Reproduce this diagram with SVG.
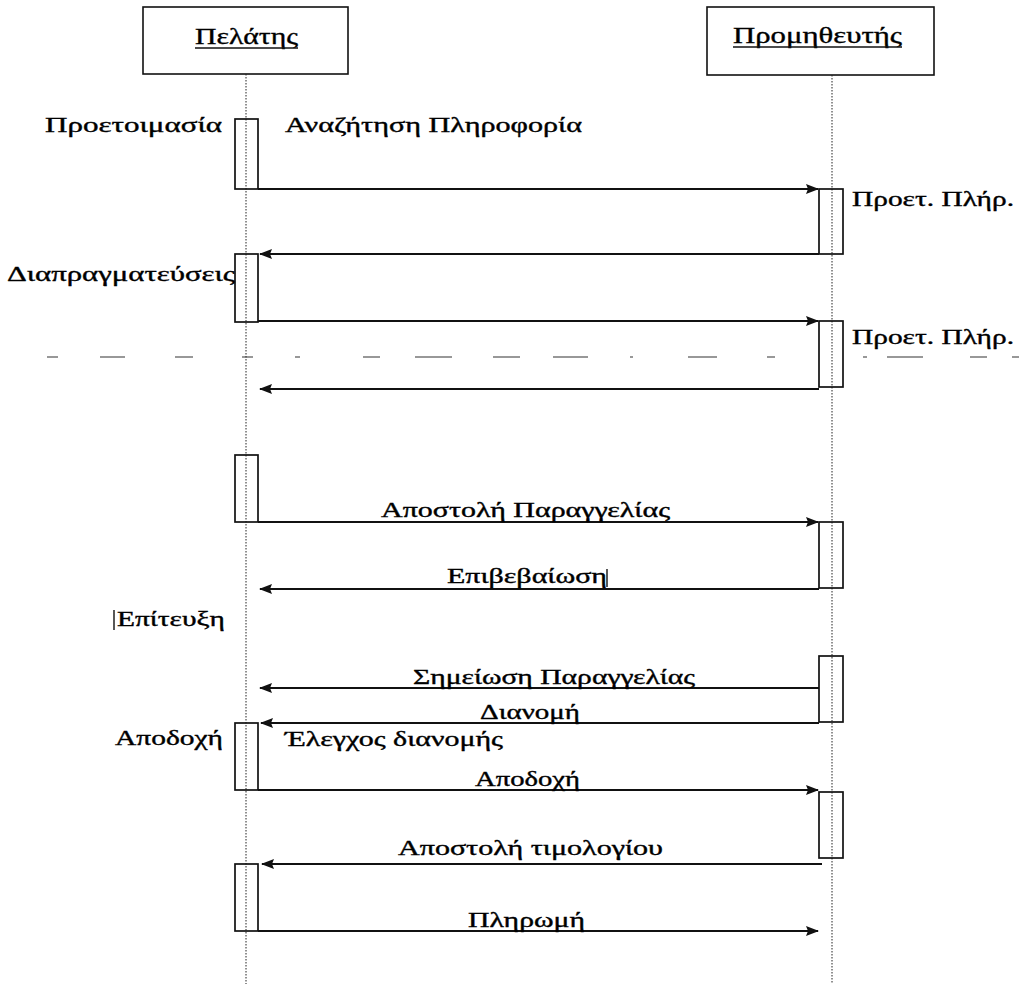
<svg xmlns="http://www.w3.org/2000/svg" width="1019" height="984" viewBox="0 0 1019 984">
  <style>
    .lbl { font-family: "Liberation Serif", "DejaVu Serif", serif; font-size: 20px; fill: #000; stroke: #000; stroke-width: 0.35; }
    .hdr { font-family: "Liberation Serif", "DejaVu Serif", serif; font-size: 23px; fill: #000; stroke: #000; stroke-width: 0.35; }
    .box { fill: #fff; stroke: #111; stroke-width: 1.6; }
    .act { fill: none; stroke: #111; stroke-width: 1.7; }
    .life { stroke: #222; stroke-width: 1; stroke-dasharray: 1.5 1.5; fill: none; }
    .msg { stroke: #111; stroke-width: 1.9; fill: none; }
    .fwd { marker-end: url(#head); }
    .ul { stroke: #111; stroke-width: 1.4; }
    .rule { stroke: #333; stroke-width: 1.2; fill: none; }
  </style>
  <defs>
    <marker id="head" markerUnits="userSpaceOnUse" markerWidth="13" markerHeight="10" refX="12" refY="5" orient="auto">
      <path d="M0,0 L13,5 L0,10 L2,5 z" fill="#111"/>
    </marker>
  </defs>

  <rect width="1019" height="984" fill="#fff"/>

  <!-- participants -->
  <g id="client">
    <rect class="box" x="143" y="7" width="205" height="67"/>
    <text class="hdr" x="195" y="44" textLength="103" lengthAdjust="spacingAndGlyphs">Πελάτης</text>
    <line class="ul" x1="195" y1="48" x2="298" y2="48"/>
  </g>
  <g id="supplier">
    <rect class="box" x="707" y="7" width="227" height="68"/>
    <text class="hdr" x="733" y="43" textLength="169" lengthAdjust="spacingAndGlyphs">Προμηθευτής</text>
    <line class="ul" x1="733" y1="47" x2="902" y2="47"/>
  </g>

  <!-- lifelines -->
  <g id="lifelines">
    <line class="life" x1="246" y1="74" x2="246" y2="984"/>
    <line class="life" x1="832" y1="75" x2="832" y2="984"/>
  </g>

  <!-- separator rule -->
  <g id="separator">
    <path class="rule" d="M47,357H58 M100,357H125 M175,357H193 M242,357H253 M295,357H300 M363,357H380 M415,357H452 M493,357H520 M553,357H588 M630,357H633 M688,357H717 M767,357H775 M863,357H867 M887,357H923 M970,357H987 M1012,357H1019"/>
  </g>

  <!-- activations: client -->
  <g id="client-activations">
    <rect class="act" x="235" y="119" width="23" height="70"/>
    <rect class="act" x="235" y="254" width="23" height="68"/>
    <rect class="act" x="235" y="455" width="23" height="67"/>
    <rect class="act" x="235" y="723" width="23" height="67"/>
    <rect class="act" x="235" y="864" width="23" height="67"/>
  </g>

  <!-- activations: supplier -->
  <g id="supplier-activations">
    <rect class="act" x="819" y="189" width="24" height="65"/>
    <rect class="act" x="819" y="321" width="24" height="66"/>
    <rect class="act" x="819" y="522" width="24" height="66"/>
    <rect class="act" x="819" y="656" width="24" height="66"/>
    <rect class="act" x="819" y="792" width="24" height="66"/>
  </g>

  <!-- messages -->
  <g id="connectors">
    <line class="msg fwd" x1="258" y1="189" x2="818" y2="189"/>
    <line class="msg fwd" x1="819" y1="254" x2="260" y2="254"/>
    <line class="msg fwd" x1="258" y1="321" x2="818" y2="321"/>
    <line class="msg fwd" x1="819" y1="389" x2="260" y2="389"/>
    <line class="msg fwd" x1="258" y1="522" x2="818" y2="522"/>
    <line class="msg fwd" x1="819" y1="589" x2="260" y2="589"/>
    <line class="msg fwd" x1="819" y1="688" x2="260" y2="688"/>
    <line class="msg fwd" x1="819" y1="723" x2="261" y2="723"/>
    <line class="msg fwd" x1="258" y1="790" x2="818" y2="790"/>
    <line class="msg fwd" x1="822" y1="864" x2="262" y2="864"/>
    <line class="msg fwd" x1="258" y1="931" x2="818" y2="931"/>
  </g>

  <!-- labels -->
  <g id="labels">
    <text class="lbl" x="45" y="132" textLength="177" lengthAdjust="spacingAndGlyphs">Προετοιμασία</text>
    <text class="lbl" x="285" y="132" textLength="297" lengthAdjust="spacingAndGlyphs">Αναζήτηση Πληροφορία</text>
    <text class="lbl" x="852" y="206" textLength="162" lengthAdjust="spacingAndGlyphs">Προετ. Πλήρ.</text>
    <text class="lbl" x="7" y="281" textLength="228" lengthAdjust="spacingAndGlyphs">Διαπραγματεύσεις</text>
    <text class="lbl" x="852" y="344" textLength="162" lengthAdjust="spacingAndGlyphs">Προετ. Πλήρ.</text>
    <text class="lbl" x="381" y="517" textLength="289" lengthAdjust="spacingAndGlyphs">Αποστολή Παραγγελίας</text>
    <text class="lbl" x="447" y="583" textLength="160" lengthAdjust="spacingAndGlyphs">Επιβεβαίωση</text>
    <line class="ul" x1="607" y1="569" x2="607" y2="587"/>
    <line class="ul" x1="114" y1="610" x2="114" y2="630"/>
    <text class="lbl" x="117" y="626" textLength="108" lengthAdjust="spacingAndGlyphs">Επίτευξη</text>
    <text class="lbl" x="413" y="684" textLength="282" lengthAdjust="spacingAndGlyphs">Σημείωση Παραγγελίας</text>
    <text class="lbl" x="480" y="719" textLength="100" lengthAdjust="spacingAndGlyphs">Διανομή</text>
    <text class="lbl" x="115" y="745" textLength="108" lengthAdjust="spacingAndGlyphs">Αποδοχή</text>
    <text class="lbl" x="285" y="746" textLength="218" lengthAdjust="spacingAndGlyphs">Έλεγχος διανομής</text>
    <text class="lbl" x="475" y="786" textLength="105" lengthAdjust="spacingAndGlyphs">Αποδοχή</text>
    <text class="lbl" x="398" y="855" textLength="265" lengthAdjust="spacingAndGlyphs">Αποστολή τιμολογίου</text>
    <text class="lbl" x="468" y="927" textLength="117" lengthAdjust="spacingAndGlyphs">Πληρωμή</text>
  </g>
</svg>
